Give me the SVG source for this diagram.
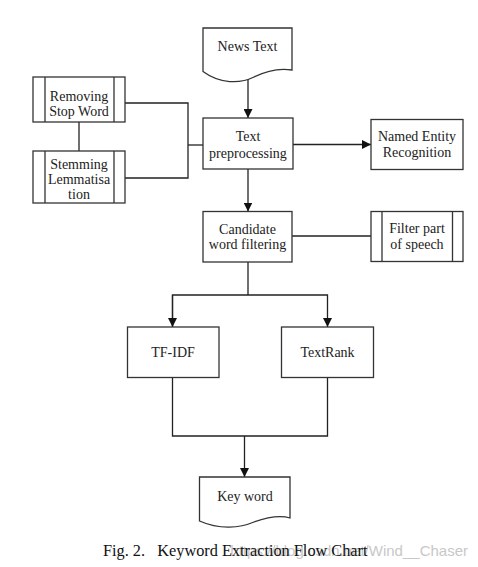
<svg xmlns="http://www.w3.org/2000/svg" width="478" height="567" viewBox="0 0 478 567">
<style>
.box{fill:#fff;stroke:#333;stroke-width:1.3}
.bar{fill:none;stroke:#333;stroke-width:1.3}
.ln{fill:none;stroke:#222;stroke-width:1.3}
.t{font-family:"Liberation Serif","Times New Roman",serif;font-size:14px;fill:#222;text-anchor:middle}
.cap{font-family:"Liberation Serif","Times New Roman",serif;font-size:16.3px;fill:#111}
.wm{font-family:"Liberation Sans",Arial,sans-serif;font-size:15px;fill:#c8c8c8;text-anchor:end}
</style>
<defs>
<marker id="ah" markerWidth="9" markerHeight="9" refX="9" refY="4.5" orient="auto" markerUnits="userSpaceOnUse">
<path d="M0,0 L9,4.5 L0,9 Z" fill="#111"/>
</marker>
</defs>
<rect width="478" height="567" fill="#fff"/>
<g id="connectors">
<path class="ln" d="M248,72 V118" marker-end="url(#ah)"/>
<path class="ln" d="M125,103 H188 V178 H125"/>
<path class="ln" d="M188,145 H203"/>
<path class="ln" d="M79,122 V151"/>
<path class="ln" d="M293,144.5 H371" marker-end="url(#ah)"/>
<path class="ln" d="M248,169 V211.5" marker-end="url(#ah)"/>
<path class="ln" d="M292,236 H371"/>
<path class="ln" d="M248,262 V295"/>
<path class="ln" d="M172.5,327 V295 H327.5 V327" marker-end="url(#ah)"/>
<path class="ln" d="M172.5,295 V327" marker-end="url(#ah)"/>
<path class="ln" d="M172.5,377.5 V436 H327.5 V377.5"/>
<path class="ln" d="M244.5,436 V477" marker-end="url(#ah)"/>
</g>
<g id="news-text">
<path class="box" d="M203,28 H292 V70 C280,68 266,71 254,77 C240,84 220,84 203,71.5 Z"/>
<text class="t" x="247.5" y="51">News Text</text>
</g>
<g id="removing-stop-word">
<rect class="box" x="33" y="77" width="92" height="45"/>
<path class="bar" d="M45,77 V122 M114,77 V122"/>
<text class="t" x="79" y="100.5">Removing</text>
<text class="t" x="79" y="115.5">Stop Word</text>
</g>
<g id="stemming">
<rect class="box" x="33" y="151" width="92" height="52"/>
<path class="bar" d="M45,151 V203 M114,151 V203"/>
<text class="t" x="79" y="168.5">Stemming</text>
<text class="t" x="79" y="183.5">Lemmatisa</text>
<text class="t" x="79" y="198.5">tion</text>
</g>
<g id="text-preprocessing">
<rect class="box" x="203" y="118" width="90" height="51"/>
<text class="t" x="248" y="141">Text</text>
<text class="t" x="248" y="157.5">preprocessing</text>
</g>
<g id="named-entity-recognition">
<rect class="box" x="371" y="119.5" width="92" height="50"/>
<text class="t" x="417" y="141">Named Entity</text>
<text class="t" x="417" y="157">Recognition</text>
</g>
<g id="candidate-word-filtering">
<rect class="box" x="203" y="211.5" width="89" height="50.5"/>
<text class="t" x="247.5" y="234">Candidate</text>
<text class="t" x="247.5" y="249">word filtering</text>
</g>
<g id="filter-part-of-speech">
<rect class="box" x="371" y="211.5" width="92" height="50"/>
<path class="bar" d="M382,211.5 V261.5 M452.5,211.5 V261.5"/>
<text class="t" x="417" y="233">Filter part</text>
<text class="t" x="417" y="248.5">of speech</text>
</g>
<g id="tf-idf">
<rect class="box" x="127.5" y="327" width="91.5" height="50.5"/>
<text class="t" x="173" y="357">TF-IDF</text>
</g>
<g id="textrank">
<rect class="box" x="281.5" y="327" width="92" height="50.5"/>
<text class="t" x="327.5" y="357">TextRank</text>
</g>
<g id="key-word">
<path class="box" d="M199.5,477 H290 V518 C280,515 268,517 254,522 C240,528 220,530 199.5,521 Z"/>
<text class="t" x="245" y="501">Key word</text>
</g>
<text class="wm" x="468" y="556">https://blog.csdn.net/Wind__Chaser</text>
<text class="cap" x="103" y="556" xml:space="preserve">Fig. 2.   Keyword Extraction Flow Chart</text>
</svg>
